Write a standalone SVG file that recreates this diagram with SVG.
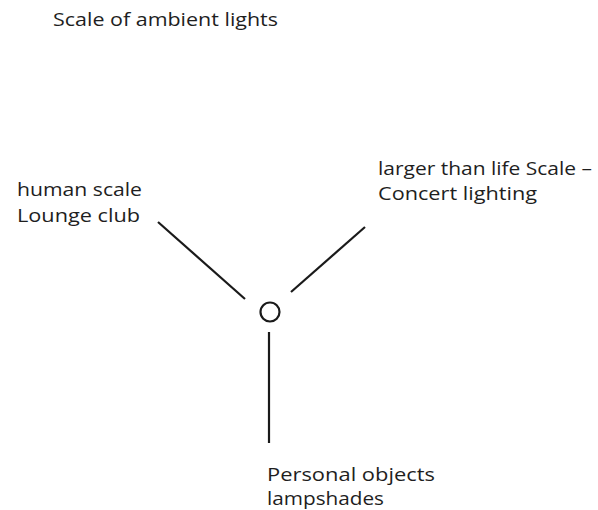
<svg xmlns="http://www.w3.org/2000/svg" width="598" height="510" viewBox="0 0 598 510">
<style>
text{font-family:"Open Sans","Liberation Sans",sans-serif;font-size:19px;fill:#1e1e1e}
.ln{stroke:#1a1a1a;stroke-width:2.2;fill:none;stroke-linecap:butt}
</style>
<rect width="598" height="510" fill="#ffffff"/>
<g id="title"><text x="53" y="26" textLength="225" lengthAdjust="spacingAndGlyphs">Scale of ambient lights</text></g>
<g id="connectors">
<line class="ln" x1="158" y1="222" x2="245" y2="299"/>
<line class="ln" x1="365" y1="227" x2="291" y2="292"/>
<line class="ln" x1="269" y1="332" x2="269" y2="443"/>
</g>
<g id="center"><circle class="ln" cx="270" cy="312" r="9.5"/></g>
<g id="human"><text x="17" y="196" textLength="125" lengthAdjust="spacingAndGlyphs">human scale</text><text x="17" y="222" textLength="123" lengthAdjust="spacingAndGlyphs">Lounge club</text></g>
<g id="larger"><text x="378" y="175" textLength="214" lengthAdjust="spacingAndGlyphs">larger than life Scale –</text><text x="378" y="200" textLength="159" lengthAdjust="spacingAndGlyphs">Concert lighting</text></g>
<g id="personal"><text x="267" y="481" textLength="168" lengthAdjust="spacingAndGlyphs">Personal  objects</text><text x="267" y="505" textLength="117" lengthAdjust="spacingAndGlyphs">lampshades</text></g>
</svg>
